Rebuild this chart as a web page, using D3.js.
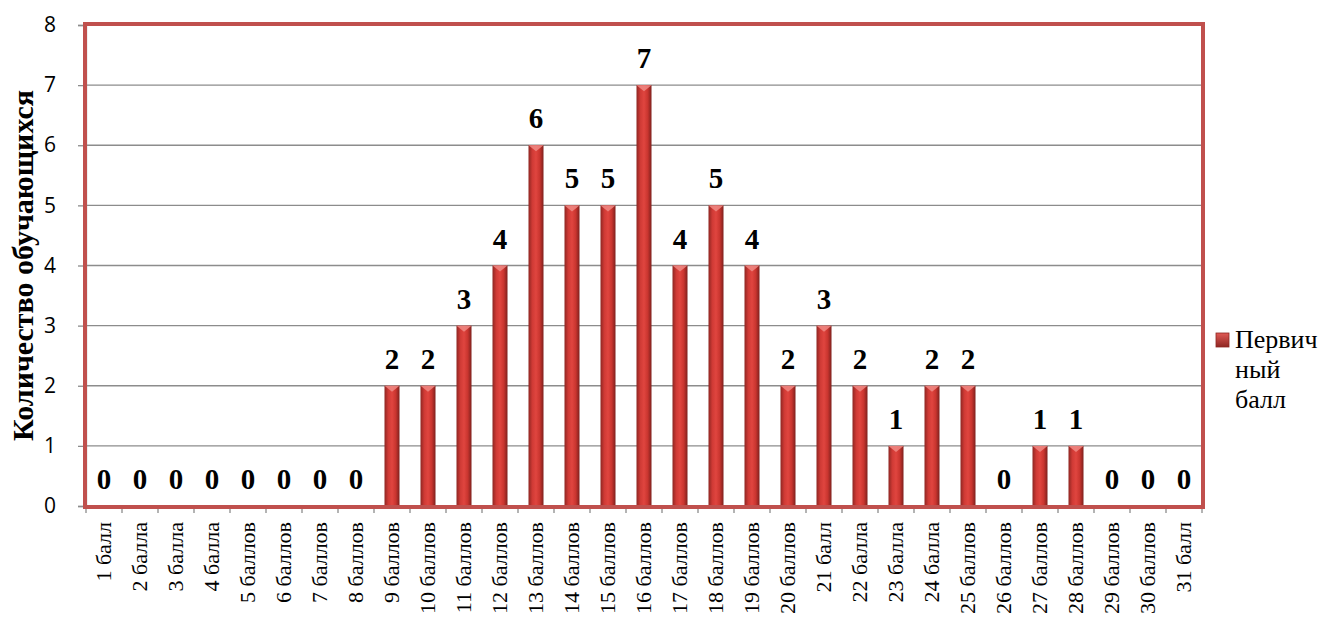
<!DOCTYPE html>
<html><head><meta charset="utf-8">
<script src="https://cdn.jsdelivr.net/npm/d3@7"></script>
<style>body{margin:0;background:#fff}svg{display:block}</style>
</head><body>
<svg id="c" width="1320" height="620"></svg>
<script>
const categories = ["1 балл","2 балла","3 балла","4 балла","5 баллов","6 баллов","7 баллов","8 баллов","9 баллов","10 баллов","11 баллов","12 баллов","13 баллов","14 баллов","15 баллов","16 баллов","17 баллов","18 баллов","19 баллов","20 баллов","21 балл","22 балла","23 балла","24 балла","25 баллов","26 баллов","27 баллов","28 баллов","29 баллов","30 баллов","31 балл"];
const values = [0,0,0,0,0,0,0,0,2,2,3,4,6,5,5,7,4,5,4,2,3,2,1,2,2,0,1,1,0,0,0];
const yTicks = [0,1,2,3,4,5,6,7,8];
const seriesName = ["Первич","ный","балл"];
const yTitle = "Количество обучающихся";

const SERIF = '"Liberation Serif", "Times New Roman", serif';
const SANS = '"Open Sans", "Liberation Sans", sans-serif';

const svg = d3.select("#c");
const L = 86, R = 1202, T = 25, B = 506;
const x = d3.scaleBand().domain(categories).range([L, R]).paddingInner(0).paddingOuter(0);
const y = d3.scaleLinear().domain([0, 8]).range([B, T]);

const defs = svg.append("defs");
const g1 = defs.append("linearGradient").attr("id","bar").attr("x1","0").attr("x2","1").attr("y1","0").attr("y2","0");
[[0,"#8e2622"],[0.25,"#cf3a35"],[0.5,"#e0453f"],[0.75,"#c9352f"],[1,"#7e201d"]].forEach(([o,c])=>g1.append("stop").attr("offset",o).attr("stop-color",c));
const g2 = defs.append("linearGradient").attr("id","leg").attr("x1","0").attr("x2","0").attr("y1","0").attr("y2","1");
[[0,"#e05a55"],[1,"#8e2622"]].forEach(([o,c])=>g2.append("stop").attr("offset",o).attr("stop-color",c));

// gridlines
svg.append("g").selectAll("line").data(yTicks.filter(d=>d>0)).join("line")
  .attr("x1", L).attr("x2", R).attr("y1", d=>y(d)).attr("y2", d=>y(d))
  .attr("stroke","#8c8c8c").attr("stroke-width",1.3);

// y axis
const ya = svg.append("g").attr("transform",`translate(${L},0)`)
  .call(d3.axisLeft(y).tickValues(yTicks).tickSize(8).tickPadding(22).tickFormat(d3.format("d")));
ya.select(".domain").attr("stroke","#8c8c8c").attr("stroke-width",1.3);
ya.selectAll(".tick line").attr("stroke","#8c8c8c").attr("stroke-width",1.3);
ya.selectAll("text").style("font-family",SANS).style("font-size","21px").attr("fill","#000");

// x axis
const xa = svg.append("g").attr("transform",`translate(0,${B})`)
  .call(d3.axisBottom(x).tickSize(0).tickPadding(0));
xa.select(".domain").attr("stroke","#8c8c8c").attr("stroke-width",1.3);
xa.selectAll(".tick text")
  .style("font-family",SERIF).style("font-size","22px").attr("fill","#000")
  .attr("text-anchor","end").attr("transform","translate(0,16) rotate(-90)").attr("dy","0.33em").attr("x",0).attr("y",0);
// tick marks at band edges
const edges = categories.map(c=>x(c)).concat([R]);
svg.append("g").selectAll("line").data(edges).join("line")
  .attr("x1",d=>d).attr("x2",d=>d).attr("y1",B).attr("y2",B+7)
  .attr("stroke","#8c8c8c").attr("stroke-width",1.3);

// bars
const bw = 15;
const bars = svg.append("g").selectAll("g").data(categories.map((c,i)=>({c,v:values[i]}))).join("g");
bars.filter(d=>d.v>0).append("rect")
  .attr("x", d=>x(d.c)+x.bandwidth()/2-bw/2).attr("width", bw)
  .attr("y", d=>y(d.v)).attr("height", d=>B-y(d.v))
  .attr("fill","url(#bar)");
bars.filter(d=>d.v>0).append("path")
  .attr("d", d=>{const cx=x(d.c)+x.bandwidth()/2, t=y(d.v); return `M${cx-bw/2},${t}L${cx+bw/2},${t}L${cx},${t+6}Z`;})
  .attr("fill","#f08a85").attr("opacity",0.85);

// data labels
svg.append("g").selectAll("text").data(categories.map((c,i)=>({c,v:values[i]}))).join("text")
  .attr("x", d=>x(d.c)+x.bandwidth()/2).attr("y", d=>y(d.v)-17)
  .attr("text-anchor","middle")
  .style("font-family",SERIF).style("font-weight","bold").style("font-size","29px")
  .attr("fill","#000").text(d=>d.v);

// plot border
svg.append("rect").attr("x",L-1).attr("y",T-1).attr("width",R-L+2).attr("height",B-T+2)
  .attr("fill","none").attr("stroke","#c0504d").attr("stroke-width",4);

// y title
svg.append("text").attr("transform",`translate(22,${(T+B)/2}) rotate(-90)`)
  .attr("text-anchor","middle").attr("dy","0.35em")
  .style("font-family",SERIF).style("font-weight","bold").style("font-size","30px")
  .text(yTitle);

// legend
svg.append("rect").attr("x",1216).attr("y",333).attr("width",13).attr("height",14)
  .attr("fill","url(#leg)").attr("stroke","#8e2622").attr("stroke-width",0.8);
svg.append("g").selectAll("text").data(seriesName).join("text")
  .attr("x",1235).attr("y",(d,i)=>348+i*30)
  .style("font-family",SERIF).style("font-size","26px")
  .attr("fill","#000").text(d=>d);
</script>
</body></html>
